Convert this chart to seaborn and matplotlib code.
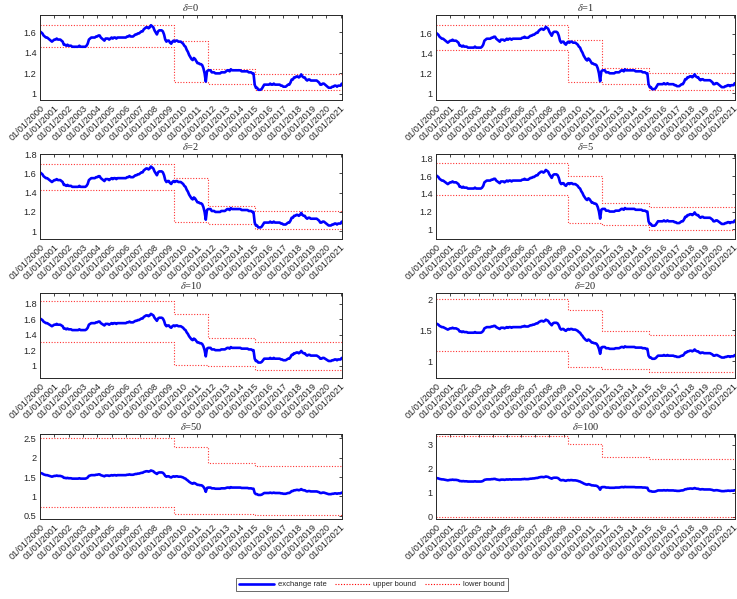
import numpy as np
import pandas as pd
import matplotlib
matplotlib.use("Agg")
import matplotlib.pyplot as plt
from matplotlib.ticker import MultipleLocator, FuncFormatter, FixedLocator
from matplotlib.lines import Line2D
import seaborn as sns

# Monthly EUR/CHF exchange rate, Jan 2000 - Feb 2021
rate_2000 = [1.61, 1.60, 1.59, 1.57, 1.56, 1.55, 1.55, 1.54, 1.53, 1.52, 1.51, 1.52]
rate_2001 = [1.53, 1.53, 1.54, 1.53, 1.53, 1.53, 1.52, 1.51, 1.48, 1.48, 1.47, 1.48]
rate_2002 = [1.47, 1.47, 1.47, 1.46, 1.46, 1.46, 1.46, 1.46, 1.46, 1.47, 1.46, 1.46]
rate_2003 = [1.46, 1.46, 1.46, 1.47, 1.49, 1.53, 1.54, 1.55, 1.55, 1.55, 1.55, 1.56]
rate_2004 = [1.56, 1.57, 1.57, 1.55, 1.54, 1.53, 1.52, 1.54, 1.54, 1.54, 1.53, 1.54]
rate_2005 = [1.55, 1.54, 1.55, 1.55, 1.54, 1.55, 1.55, 1.55, 1.55, 1.55, 1.55, 1.55]
rate_2006 = [1.55, 1.56, 1.56, 1.57, 1.56, 1.56, 1.56, 1.57, 1.58, 1.58, 1.59, 1.59]
rate_2007 = [1.60, 1.61, 1.61, 1.63, 1.64, 1.65, 1.65, 1.64, 1.65, 1.67, 1.66, 1.65]
rate_2008 = [1.62, 1.60, 1.58, 1.61, 1.62, 1.62, 1.62, 1.61, 1.58, 1.53, 1.51, 1.52]
rate_2009 = [1.52, 1.50, 1.49, 1.51, 1.52, 1.51, 1.52, 1.52, 1.51, 1.51, 1.51, 1.50]
rate_2010 = [1.49, 1.47, 1.46, 1.43, 1.41, 1.38, 1.36, 1.34, 1.33, 1.35, 1.34, 1.32]
rate_2011 = [1.30, 1.30, 1.29, 1.29, 1.28, 1.25, 1.20, 1.12, 1.22, 1.23, 1.23, 1.23]
rate_2012 = [1.21, 1.21, 1.21, 1.20, 1.20, 1.20, 1.20, 1.20, 1.21, 1.21, 1.21, 1.21]
rate_2013 = [1.22, 1.23, 1.23, 1.22, 1.24, 1.23, 1.23, 1.23, 1.23, 1.23, 1.23, 1.23]
rate_2014 = [1.23, 1.22, 1.22, 1.22, 1.22, 1.22, 1.22, 1.21, 1.21, 1.21, 1.20, 1.20]
rate_2015 = [1.09, 1.06, 1.06, 1.04, 1.04, 1.04, 1.05, 1.07, 1.09, 1.09, 1.09, 1.09]
rate_2016 = [1.09, 1.10, 1.09, 1.09, 1.10, 1.09, 1.09, 1.09, 1.09, 1.09, 1.08, 1.08]
rate_2017 = [1.07, 1.07, 1.07, 1.08, 1.09, 1.09, 1.11, 1.14, 1.14, 1.16, 1.16, 1.17]
rate_2018 = [1.17, 1.16, 1.17, 1.19, 1.17, 1.16, 1.16, 1.14, 1.13, 1.14, 1.14, 1.13]
rate_2019 = [1.13, 1.13, 1.13, 1.13, 1.13, 1.12, 1.11, 1.09, 1.09, 1.10, 1.10, 1.09]
rate_2020 = [1.08, 1.07, 1.06, 1.06, 1.06, 1.07, 1.07, 1.08, 1.08, 1.07, 1.08, 1.08]
rate_2021 = [1.08, 1.10]

rate_by_year = [rate_2000, rate_2001, rate_2002, rate_2003, rate_2004, rate_2005,
                rate_2006, rate_2007, rate_2008, rate_2009, rate_2010, rate_2011,
                rate_2012, rate_2013, rate_2014, rate_2015, rate_2016, rate_2017,
                rate_2018, rate_2019, rate_2020, rate_2021]

# Regime change dates (decimal years) and end of sample
regime_edges = [2000.0, 2009.33, 2011.74, 2015.0, 2021.1]

deltas = [0, 1, 2, 5, 10, 20, 50, 100]

upper_bounds = {
    0:   [1.67, 1.52, 1.24, 1.19],
    1:   [1.69, 1.54, 1.25, 1.20],
    2:   [1.70, 1.55, 1.26, 1.21],
    5:   [1.75, 1.60, 1.30, 1.25],
    10:  [1.84, 1.67, 1.36, 1.31],
    20:  [2.00, 1.82, 1.49, 1.43],
    50:  [2.51, 2.28, 1.86, 1.79],
    100: [3.34, 3.04, 2.48, 2.38],
}
lower_bounds = {
    0:   [1.46, 1.12, 1.10, 1.04],
    1:   [1.44, 1.11, 1.09, 1.03],
    2:   [1.43, 1.10, 1.08, 1.02],
    5:   [1.39, 1.07, 1.05, 0.99],
    10:  [1.31, 1.01, 0.99, 0.94],
    20:  [1.17, 0.90, 0.88, 0.83],
    50:  [0.73, 0.56, 0.55, 0.52],
    100: [0.00, 0.00, 0.00, 0.00],
}
ytick_steps = [0.2, 0.2, 0.2, 0.2, 0.2, 0.5, 0.5, 1.0]

year_ticks = list(range(2000, 2022))
year_labels = [f"01/01/{y}" for y in year_ticks]

# ---- assemble tables -------------------------------------------------------
rows = []
for i, vals in enumerate(rate_by_year):
    for m, v in enumerate(vals):
        rows.append({"t": 2000 + i + m / 12.0, "rate": v})
rate_df = pd.DataFrame(rows)

sns.set_theme(style="white")
plt.rcParams.update({
    "font.family": ["Liberation Sans", "DejaVu Sans"],
    "mathtext.fontset": "stix",
    "axes.edgecolor": "#262626",
    "axes.linewidth": 0.7,
    "xtick.color": "#262626",
    "ytick.color": "#262626",
    "xtick.direction": "in",
    "ytick.direction": "in",
    "xtick.major.size": 2.5,
    "ytick.major.size": 2.5,
    "xtick.major.width": 0.6,
    "ytick.major.width": 0.6,
    "xtick.labelsize": 6.6,
    "ytick.labelsize": 6.6,
})

W, H = 737, 599
fig = plt.figure(figsize=(W / 100, H / 100), dpi=100)

col_left = [40, 436]
col_width = [302, 299]
row_top = [15, 154, 293, 434]
ax_h = 85

blue = "#0000FF"
red = "#FF0000"
dots = (0, (1, 1.5))

for k, d in enumerate(deltas):
    r, c = divmod(k, 2)
    x0 = col_left[c]
    y0 = row_top[r]
    ax = fig.add_axes([x0 / W, 1 - (y0 + ax_h) / H, col_width[c] / W, ax_h / H])

    up = upper_bounds[d]
    lo = lower_bounds[d]
    bound_df = pd.DataFrame({
        "t": regime_edges,
        "upper": up + [up[-1]],
        "lower": lo + [lo[-1]],
    })

    sns.lineplot(data=bound_df, x="t", y="upper", ax=ax, color=red,
                 linestyle=dots, linewidth=0.8, drawstyle="steps-post",
                 alpha=0.8)
    sns.lineplot(data=bound_df, x="t", y="lower", ax=ax, color=red,
                 linestyle=dots, linewidth=0.8, drawstyle="steps-post",
                 alpha=0.8)
    sns.lineplot(data=rate_df, x="t", y="rate", ax=ax, color=blue,
                 linewidth=1.9)

    ax.set_xlim(regime_edges[0], regime_edges[-1])
    ax.set_ylim(min(lo) - 0.1, max(up) + 0.1)

    ax.xaxis.set_major_locator(FixedLocator(year_ticks))
    ax.set_xticklabels(year_labels, rotation=45, ha="right",
                       rotation_mode="anchor")
    ax.yaxis.set_major_locator(MultipleLocator(ytick_steps[k]))
    ax.yaxis.set_major_formatter(FuncFormatter(lambda v, p: f"{v:g}"))
    ax.tick_params(axis="both", top=True, right=True, pad=2.5)

    ax.set_xlabel("")
    ax.set_ylabel("")
    for s in ax.spines.values():
        s.set_visible(True)
    ax.set_title(rf"$\delta$=$\mathregular{{{d}}}$", fontsize=7.5,
                 family=["Liberation Serif", "DejaVu Serif"], pad=3,
                 color="#262626")

handles = [
    Line2D([], [], color=blue, linewidth=1.9),
    Line2D([], [], color=red, linestyle=dots, linewidth=0.8),
    Line2D([], [], color=red, linestyle=dots, linewidth=0.8),
]
leg = fig.legend(handles, ["exchange rate", "upper bound", "lower bound"],
                 loc="center", bbox_to_anchor=(372 / W, 1 - 584.5 / H),
                 ncol=3, fontsize=5.5, frameon=True, fancybox=False,
                 handlelength=4.6, handletextpad=0.45, columnspacing=1.1,
                 borderpad=0.35, borderaxespad=0)
leg.get_frame().set_edgecolor("#262626")
leg.get_frame().set_linewidth(0.6)

fig.savefig("out.png", dpi=100)
